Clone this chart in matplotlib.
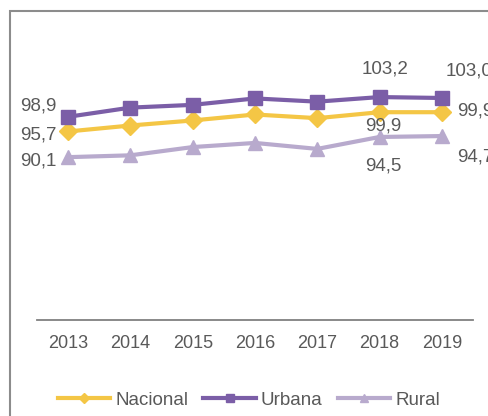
import matplotlib.pyplot as plt
from matplotlib.patches import Rectangle

plt.rcParams["font.family"] = ["Liberation Sans", "DejaVu Sans"]

years = ["2013", "2014", "2015", "2016", "2017", "2018", "2019"]
nacional = [95.7, 97.0, 98.1, 99.4, 98.6, 99.9, 99.9]
urbana = [98.9, 100.9, 101.5, 102.9, 102.2, 103.2, 103.0]
rural = [90.1, 90.5, 92.3, 93.2, 91.9, 94.5, 94.7]

c_nac = "#F4C645"
c_urb = "#7B5EA7"
c_rur = "#B8AACD"
txt = "#595959"
fs = 13.5

fig = plt.figure(figsize=(4.88, 4.16), dpi=100)
ax = fig.add_axes([37/488, 1 - 320/416, 436/488, 300/416])

x = list(range(len(years)))
ax.plot(x, nacional, color=c_nac, lw=3, marker="D", ms=9, label="Nacional")
ax.plot(x, urbana, color=c_urb, lw=3, marker="s", ms=10, label="Urbana")
ax.plot(x, rural, color=c_rur, lw=3, marker="^", ms=10, label="Rural")

ax.set_xlim(-0.5, 6.5)
ax.set_ylim(54.6, 120.0)
ax.set_xticks(x)
ax.set_xticklabels(years)
ax.set_yticks([])
ax.tick_params(axis="x", length=0, pad=11, labelsize=fs - 0.5, labelcolor=txt)
for s in ["top", "right", "left"]:
    ax.spines[s].set_visible(False)
ax.spines["bottom"].set_color("#808080")
ax.spines["bottom"].set_linewidth(1.3)

# data labels: (series, index, dx, dy) in pixels
labels = [
    (urbana, 0, -30, 11), (nacional, 0, -30, -4), (rural, 0, -30, -4),
    (urbana, 5, 5, 28), (nacional, 5, 4, -14), (rural, 5, 4, -29),
    (urbana, 6, 27, 27), (nacional, 6, 33, 1), (rural, 6, 33, -21),
]
for ser, i, dx, dy in labels:
    ax.annotate(f"{ser[i]:.1f}".replace(".", ","), (i, ser[i]),
                xytext=(dx, dy), textcoords="offset pixels",
                ha="center", va="center", fontsize=fs, color=txt,
                annotation_clip=False)

# outer frame of the chart
fig.patches.append(Rectangle((10/488, -0.1), 1.0, 1.1 - 11/416,
                             transform=fig.transFigure, fill=False,
                             edgecolor="#8c8c8c", lw=1.5))

fig.legend(loc="center", bbox_to_anchor=(0.51, 0.038), ncol=3, frameon=False,
           fontsize=fs, labelcolor=txt, handlelength=2.8, handletextpad=0.27,
           columnspacing=0.8, markerscale=0.6)

fig.savefig("out.png", dpi=100)
